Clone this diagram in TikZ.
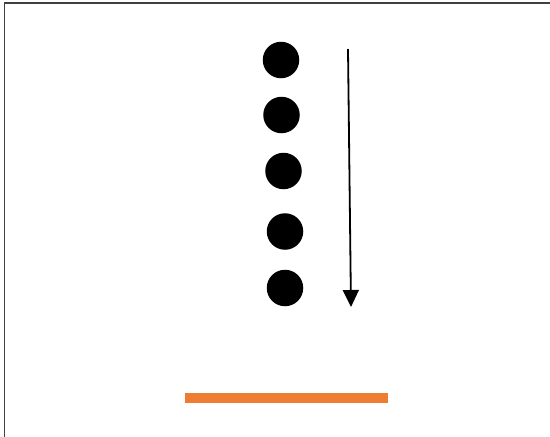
\documentclass[tikz,border=0pt]{standalone}
\usetikzlibrary{arrows.meta}
\definecolor{barorange}{HTML}{ED7D31}
\definecolor{framegray}{HTML}{404040}
\begin{document}
\begin{tikzpicture}[x=1pt,y=-1pt,
  dot/.style={circle,fill=black,inner sep=0pt,minimum size=36.5pt},
  framelines/.style={draw=framegray,line width=1.3pt},
  flowarrow/.style={draw=black,line width=1.8pt,-{Triangle[length=17pt,width=16pt]}},
  bar/.style={fill=barorange}]
\useasboundingbox (0,0) rectangle (550,437);
\fill[white] (0,0) rectangle (550,437);
\draw[framelines] (4.5,437) -- (4.5,3) -- (550,3);
\node[dot] (d1) at (281,60) {};
\node[dot] (d2) at (281.5,115) {};
\node[dot] (d3) at (283.5,171) {};
\node[dot] (d4) at (285,231.5) {};
\node[dot] (d5) at (285,288) {};
\coordinate (a1) at (348,49);
\coordinate (a2) at (351,307);
\draw[flowarrow] (a1) -- (a2);
\fill[bar] (185,393) rectangle (388,403);
\end{tikzpicture}
\end{document}
